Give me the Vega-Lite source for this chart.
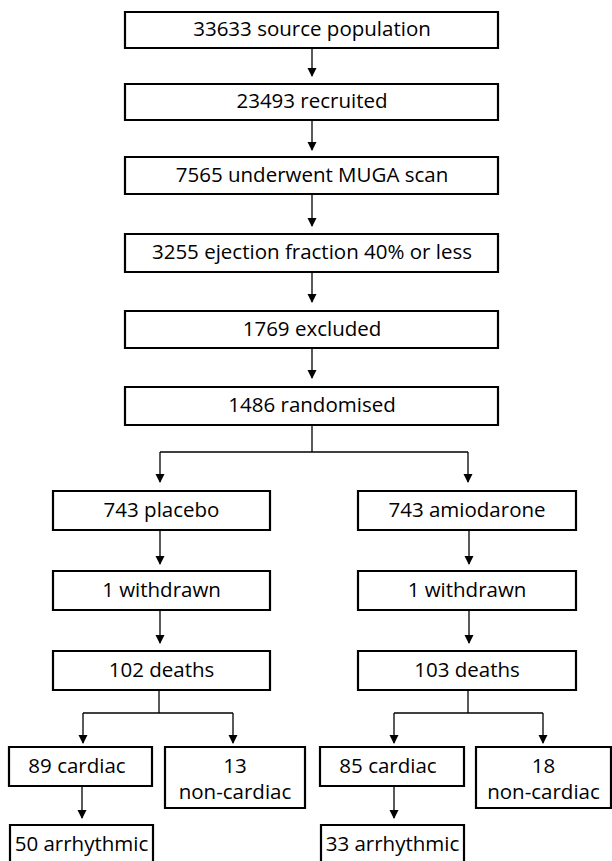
{
  "$schema": "https://vega.github.io/schema/vega-lite/v6.json",
  "width": 612,
  "height": 861,
  "padding": 0,
  "autosize": {"type": "none"},
  "background": "white",
  "config": {"view": {"stroke": null}},
  "datasets": {
    "boxes": [
      {"x1": 125, "x2": 498, "y1": 12, "y2": 48},
      {"x1": 125, "x2": 498, "y1": 84, "y2": 120},
      {"x1": 125, "x2": 498, "y1": 157, "y2": 194},
      {"x1": 125, "x2": 498, "y1": 234, "y2": 272},
      {"x1": 125, "x2": 498, "y1": 311, "y2": 348},
      {"x1": 125, "x2": 498, "y1": 387, "y2": 425},
      {"x1": 53, "x2": 270, "y1": 491, "y2": 530},
      {"x1": 358, "x2": 576, "y1": 491, "y2": 530},
      {"x1": 53, "x2": 270, "y1": 571, "y2": 610},
      {"x1": 358, "x2": 576, "y1": 571, "y2": 610},
      {"x1": 53, "x2": 270, "y1": 651, "y2": 690},
      {"x1": 358, "x2": 576, "y1": 651, "y2": 690},
      {"x1": 9, "x2": 152, "y1": 747, "y2": 786},
      {"x1": 165, "x2": 305, "y1": 747, "y2": 808},
      {"x1": 320, "x2": 464, "y1": 747, "y2": 786},
      {"x1": 476, "x2": 611, "y1": 747, "y2": 808},
      {"x1": 10, "x2": 153, "y1": 825, "y2": 875},
      {"x1": 321, "x2": 464, "y1": 825, "y2": 875}
    ],
    "labels": [
      {"x": 312, "y": 30, "label": "33633 source population"},
      {"x": 312, "y": 102, "label": "23493 recruited"},
      {"x": 312, "y": 175.5, "label": "7565 underwent MUGA scan"},
      {"x": 312, "y": 253, "label": "3255 ejection fraction 40% or less"},
      {"x": 312, "y": 329.5, "label": "1769 excluded"},
      {"x": 312, "y": 406, "label": "1486 randomised"},
      {"x": 161.5, "y": 510.5, "label": "743 placebo"},
      {"x": 467, "y": 510.5, "label": "743 amiodarone"},
      {"x": 161.5, "y": 590.5, "label": "1 withdrawn"},
      {"x": 467, "y": 590.5, "label": "1 withdrawn"},
      {"x": 161.5, "y": 670.5, "label": "102 deaths"},
      {"x": 467, "y": 670.5, "label": "103 deaths"},
      {"x": 77, "y": 766.5, "label": "89 cardiac"},
      {"x": 235, "y": 767, "label": "13\nnon-cardiac"},
      {"x": 388, "y": 766.5, "label": "85 cardiac"},
      {"x": 543.5, "y": 767, "label": "18\nnon-cardiac"},
      {"x": 81.5, "y": 845, "label": "50 arrhythmic"},
      {"x": 392.5, "y": 845, "label": "33 arrhythmic"}
    ],
    "lines": [
      {"x1": 312, "x2": 312, "y1": 48, "y2": 76},
      {"x1": 312, "x2": 312, "y1": 120, "y2": 150},
      {"x1": 312, "x2": 312, "y1": 194, "y2": 226},
      {"x1": 312, "x2": 312, "y1": 272, "y2": 302},
      {"x1": 312, "x2": 312, "y1": 348, "y2": 378},
      {"x1": 312, "x2": 312, "y1": 425, "y2": 452},
      {"x1": 160, "x2": 468, "y1": 452, "y2": 452},
      {"x1": 160, "x2": 160, "y1": 452, "y2": 482},
      {"x1": 468, "x2": 468, "y1": 452, "y2": 482},
      {"x1": 160, "x2": 160, "y1": 530, "y2": 564},
      {"x1": 469, "x2": 469, "y1": 530, "y2": 564},
      {"x1": 160, "x2": 160, "y1": 610, "y2": 643},
      {"x1": 469, "x2": 469, "y1": 610, "y2": 643},
      {"x1": 159, "x2": 159, "y1": 690, "y2": 713},
      {"x1": 83, "x2": 233, "y1": 713, "y2": 713},
      {"x1": 83, "x2": 83, "y1": 713, "y2": 743},
      {"x1": 233, "x2": 233, "y1": 713, "y2": 743},
      {"x1": 468, "x2": 468, "y1": 690, "y2": 713},
      {"x1": 394, "x2": 543, "y1": 713, "y2": 713},
      {"x1": 394, "x2": 394, "y1": 713, "y2": 743},
      {"x1": 543, "x2": 543, "y1": 713, "y2": 743},
      {"x1": 82, "x2": 82, "y1": 786, "y2": 818},
      {"x1": 394, "x2": 394, "y1": 786, "y2": 818}
    ],
    "arrows": [
      {"x": 312, "y": 77},
      {"x": 312, "y": 151},
      {"x": 312, "y": 227},
      {"x": 312, "y": 303},
      {"x": 312, "y": 379},
      {"x": 160, "y": 483},
      {"x": 468, "y": 483},
      {"x": 160, "y": 565},
      {"x": 469, "y": 565},
      {"x": 160, "y": 644},
      {"x": 469, "y": 644},
      {"x": 83, "y": 744},
      {"x": 233, "y": 744},
      {"x": 394, "y": 744},
      {"x": 543, "y": 744},
      {"x": 82, "y": 819},
      {"x": 394, "y": 819}
    ]
  },
  "layer": [
    {
      "data": {"name": "lines"},
      "mark": {"type": "rule", "stroke": "black", "strokeWidth": 1.3},
      "encoding": {
        "x": {"field": "x1", "type": "quantitative", "scale": {"domain": [0, 612], "nice": false, "zero": false}, "axis": null},
        "x2": {"field": "x2"},
        "y": {"field": "y1", "type": "quantitative", "scale": {"domain": [0, 861], "nice": false, "zero": false, "reverse": true}, "axis": null},
        "y2": {"field": "y2"}
      }
    },
    {
      "data": {"name": "arrows"},
      "mark": {"type": "point", "shape": "M-0.9,-1.8L0.9,-1.8L0,0Z", "filled": true, "fill": "black", "opacity": 1, "size": 100, "strokeWidth": 0},
      "encoding": {
        "x": {"field": "x", "type": "quantitative", "scale": {"domain": [0, 612], "nice": false, "zero": false}, "axis": null},
        "y": {"field": "y", "type": "quantitative", "scale": {"domain": [0, 861], "nice": false, "zero": false, "reverse": true}, "axis": null}
      }
    },
    {
      "data": {"name": "boxes"},
      "mark": {"type": "rect", "fill": "white", "stroke": "black", "strokeWidth": 2.2},
      "encoding": {
        "x": {"field": "x1", "type": "quantitative", "scale": {"domain": [0, 612], "nice": false, "zero": false}, "axis": null},
        "x2": {"field": "x2"},
        "y": {"field": "y1", "type": "quantitative", "scale": {"domain": [0, 861], "nice": false, "zero": false, "reverse": true}, "axis": null},
        "y2": {"field": "y2"}
      }
    },
    {
      "data": {"name": "labels"},
      "mark": {"type": "text", "font": "Open Sans", "fontSize": 20.5, "color": "black", "align": "center", "baseline": "middle", "lineBreak": "\n", "lineHeight": 26},
      "encoding": {
        "x": {"field": "x", "type": "quantitative", "scale": {"domain": [0, 612], "nice": false, "zero": false}, "axis": null},
        "y": {"field": "y", "type": "quantitative", "scale": {"domain": [0, 861], "nice": false, "zero": false, "reverse": true}, "axis": null},
        "text": {"field": "label", "type": "nominal"}
      }
    }
  ]
}
